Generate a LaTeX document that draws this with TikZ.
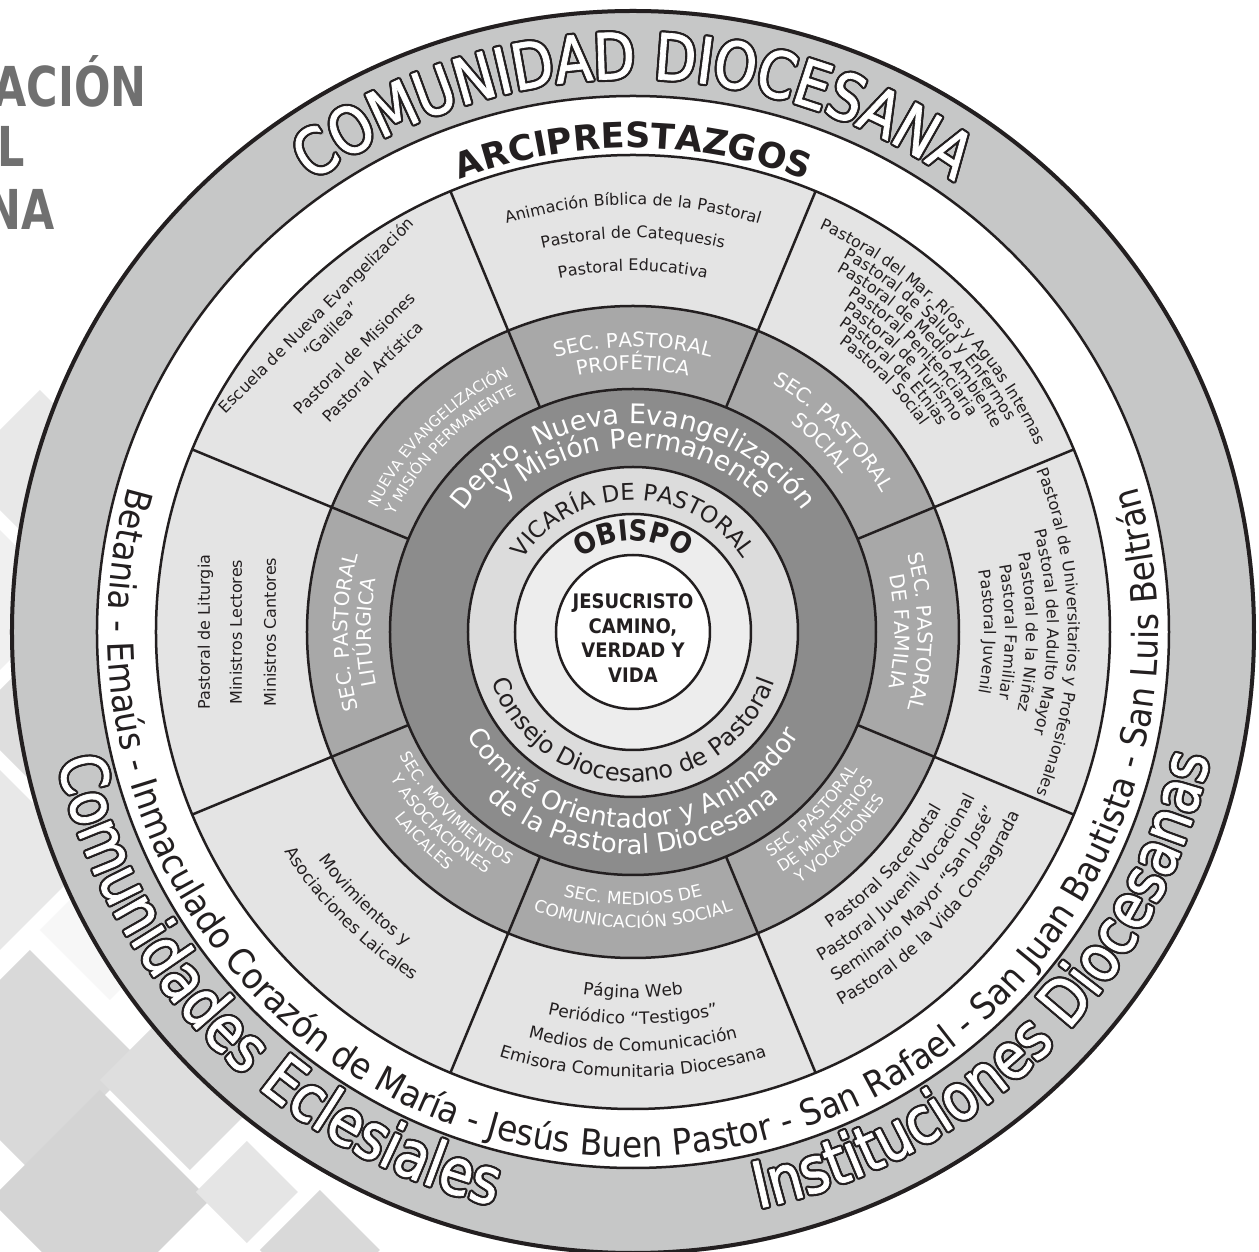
\documentclass[tikz,border=0pt]{standalone}
\usepackage{fontspec}
\setmainfont{DejaVu Sans}
\newfontfamily\outlfont{DejaVu Sans}[FakeStretch=0.85,FakeBold=1]
\newfontfamily\titlefont{DejaVu Sans}[FakeStretch=0.78]
\newfontfamily\centerfont{DejaVu Sans}[FakeStretch=0.9]
\newfontfamily\narrowfont{DejaVu Sans}[FakeStretch=0.91]
\usetikzlibrary{decorations.text}
\definecolor{ringgray}{HTML}{C6C7C7}
\definecolor{sectgray}{HTML}{E4E4E4}
\definecolor{secgray}{HTML}{A8A8A8}
\definecolor{deptogray}{HTML}{8C8C8C}
\definecolor{vicgray}{HTML}{DCDCDC}
\definecolor{obgray}{HTML}{EDEDED}
\definecolor{lineblack}{HTML}{231F20}
\definecolor{titlegray}{HTML}{707070}
\newcommand\fs[1]{\fontsize{#1}{#1}\selectfont}
% clockwise arc text (tops outward)
\newcommand\TxtCW[5]{\path[decorate,decoration={text along path,text align=center,text color=#4,text={|#3|#5}}] (#2+170:#1) arc[start angle=#2+170,end angle=#2-170,radius=#1];}
% counter-clockwise arc text (tops inward)
\newcommand\TxtCCW[5]{\path[decorate,decoration={text along path,text align=center,text color=#4,text={|#3|#5}}] (#2-170:#1) arc[start angle=#2-170,end angle=#2+170,radius=#1];}
\newcommand\OutlCW[3]{\foreach \oa in {0,30,...,330}{\begin{scope}[shift={(\oa:2.2)}]\TxtCW{#1}{#2}{\outlfont\fs{64}}{lineblack}{#3}\end{scope}}\TxtCW{#1}{#2}{\outlfont\fs{64}}{white}{#3}}
\newcommand\OutlCCW[3]{\foreach \oa in {0,30,...,330}{\begin{scope}[shift={(\oa:2.2)}]\TxtCCW{#1}{#2}{\outlfont\fs{64}}{lineblack}{#3}\end{scope}}\TxtCCW{#1}{#2}{\outlfont\fs{64}}{white}{#3}}
\newcommand\diam[4]{\fill[#4] (#1-633,632-#2) ++(0,#3) -- ++(#3,-#3) -- ++(-#3,-#3) -- ++(-#3,#3) -- cycle;}
\tikzset{ringline/.style={draw=lineblack,line width=2.5},
  straighttxt/.style={anchor=base,inner sep=0pt,text=lineblack,font=\fs{#1}}}
\begin{document}
\begin{tikzpicture}[x=1pt,y=1pt]
\useasboundingbox (-633,-620) rectangle (626,632);
\fill[white] (-633,-620) rectangle (626,632);
% background diamonds
\diam{40}{470}{80}{black!9}
\diam{0}{600}{70}{black!6}
\diam{30}{720}{60}{black!13}
\diam{0}{860}{90}{black!9}
\diam{110}{930}{70}{black!3}
\diam{30}{1060}{110}{black!15}
\diam{190}{1080}{90}{black!13}
\diam{100}{1200}{110}{black!17}
\diam{247}{1192}{51}{black!10}
\diam{320}{1250}{60}{black!15}
% title fragments
\node[anchor=base east,text=titlegray,font=\titlefont\bfseries\fs{55}] (t1) at (150-633,632-107) {ACIÓN};
\node[anchor=base east,text=titlegray,font=\titlefont\bfseries\fs{55}] (t2) at (28-633,632-167) {L};
\node[anchor=base east,text=titlegray,font=\titlefont\bfseries\fs{55}] (t3) at (58-633,632-230) {NA};
% rings
\fill[ringgray] (0,0) circle[radius=623];
\draw[lineblack,line width=4] (0,0) circle[radius=621];
\fill[white] (0,0) circle[radius=536];
\draw[ringline] (0,0) circle[radius=536];
\fill[sectgray] (0,0) circle[radius=477];
\draw[ringline] (0,0) circle[radius=477];
\fill[secgray] (0,0) circle[radius=326];
\draw[ringline] (0,0) circle[radius=326];
\fill[deptogray] (0,0) circle[radius=243];
\draw[ringline] (0,0) circle[radius=243];
\fill[vicgray] (0,0) circle[radius=165];
\draw[ringline] (0,0) circle[radius=165];
\fill[obgray] (0,0) circle[radius=118];
\draw[ringline] (0,0) circle[radius=118];
\fill[white] (0,0) circle[radius=77];
\draw[ringline] (0,0) circle[radius=77];
\foreach \k in {0,...,7}{\draw[ringline] (22.5+45*\k:243) -- (22.5+45*\k:477);}
% outer ring texts
\OutlCW{553}{90}{COMUNIDAD DIOCESANA}
\OutlCCW{590}{224.5}{Comunidades Eclesiales}
\OutlCCW{590}{-45}{Instituciones Diocesanas}
% white ring
\TxtCW{484}{90}{\bfseries\fs{35}}{lineblack}{ARCIPRESTAZGOS}
\TxtCCW{525}{270}{\narrowfont\fs{36}}{lineblack}{Betania - Emaús - Inmaculado Corazón de María - Jesús Buen Pastor - San Rafael - San Juan Bautista - San Luis Beltrán}
% outer sectors
\TxtCW{427}{90}{\fs{16}}{lineblack}{Animación Bíblica de la Pastoral}
\TxtCW{394}{90}{\fs{16}}{lineblack}{Pastoral de Catequesis}
\TxtCW{361}{90}{\fs{16}}{lineblack}{Pastoral Educativa}
\TxtCW{444}{45}{\fs{16}}{lineblack}{Pastoral del Mar, Ríos y Aguas Internas}
\TxtCW{429}{45}{\fs{16}}{lineblack}{Pastoral de Salud y Enfermos}
\TxtCW{414}{45}{\fs{16}}{lineblack}{Pastoral de Medio Ambiente}
\TxtCW{399}{45}{\fs{16}}{lineblack}{Pastoral Penitenciaria}
\TxtCW{384}{45}{\fs{16}}{lineblack}{Pastoral de Turismo}
\TxtCW{369}{45}{\fs{16}}{lineblack}{Pastoral de Etnias}
\TxtCW{354}{45}{\fs{16}}{lineblack}{Pastoral Social}
\TxtCW{435}{0}{\fs{16}}{lineblack}{Pastoral de Universitarios y Profesionales}
\TxtCW{414}{0}{\fs{16}}{lineblack}{Pastoral del Adulto Mayor}
\TxtCW{393}{0}{\fs{16}}{lineblack}{Pastoral de la Niñez}
\TxtCW{372}{0}{\fs{16}}{lineblack}{Pastoral Familiar}
\TxtCW{351}{0}{\fs{16}}{lineblack}{Pastoral Juvenil}
\TxtCCW{356}{-43}{\fs{17}}{lineblack}{Pastoral Sacerdotal}
\TxtCCW{380}{-43}{\fs{17}}{lineblack}{Pastoral Juvenil Vocacional}
\TxtCCW{404}{-43}{\fs{17}}{lineblack}{Seminario Mayor “San José”}
\TxtCCW{428}{-43}{\fs{17}}{lineblack}{Pastoral de la Vida Consagrada}
\TxtCCW{366}{-90}{\fs{17}}{lineblack}{Página Web}
\TxtCCW{392}{-90}{\fs{17}}{lineblack}{Periódico “Testigos”}
\TxtCCW{419}{-90}{\fs{17}}{lineblack}{Medios de Comunicación}
\TxtCCW{445}{-90}{\fs{17}}{lineblack}{Emisora Comunitaria Diocesana}
\TxtCCW{388}{-135}{\fs{17}}{lineblack}{Movimientos y}
\TxtCCW{412}{-135}{\fs{17}}{lineblack}{Asociaciones Laicales}
\node[straighttxt=16,rotate=90] (lit1) at (180:423) {Pastoral de Liturgia};
\node[straighttxt=16,rotate=90] (lit2) at (180:391) {Ministros Lectores};
\node[straighttxt=16,rotate=90] (lit3) at (180:357) {Ministros Cantores};
\node[straighttxt=16,rotate=45] (ne1) at (135:442) {Escuela de Nueva Evangelización};
\node[straighttxt=16,rotate=45] (ne2) at (135:421) {“Galilea”};
\node[straighttxt=16,rotate=45] (ne3) at (135:388) {Pastoral de Misiones};
\node[straighttxt=16,rotate=45] (ne4) at (135:362) {Pastoral Artística};
% secretariat ring
\TxtCW{285}{90}{\fs{20}}{white}{SEC. PASTORAL}
\TxtCW{262}{90}{\fs{20}}{white}{PROFÉTICA}
\TxtCW{285}{45}{\fs{20}}{white}{SEC. PASTORAL}
\TxtCW{262}{45}{\fs{20}}{white}{SOCIAL}
\TxtCW{285}{0}{\fs{20}}{white}{SEC. PASTORAL}
\TxtCW{262}{0}{\fs{20}}{white}{DE FAMILIA}
\TxtCW{285}{180}{\fs{20}}{white}{SEC. PASTORAL}
\TxtCW{262}{180}{\fs{20}}{white}{LITÚRGICA}
\TxtCW{284}{135}{\fs{15}}{white}{NUEVA EVANGELIZACIÓN}
\TxtCW{265}{135}{\fs{15}}{white}{Y MISIÓN PERMANENTE}
\TxtCCW{264}{-45}{\fs{16}}{white}{SEC. PASTORAL}
\TxtCCW{283}{-45}{\fs{16}}{white}{DE MINISTERIOS}
\TxtCCW{302}{-45}{\fs{16}}{white}{Y VOCACIONES}
\TxtCCW{273}{-90}{\fs{17}}{white}{SEC. MEDIOS DE}
\TxtCCW{296}{-90}{\fs{17}}{white}{COMUNICACIÓN SOCIAL}
\TxtCCW{264}{-135}{\fs{16}}{white}{SEC. MOVIMIENTOS}
\TxtCCW{283}{-135}{\fs{16}}{white}{Y ASOCIACIONES}
\TxtCCW{302}{-135}{\fs{16}}{white}{LAICALES}
% depto ring
\TxtCW{208}{90}{\fs{27}}{white}{Depto. Nueva Evangelización}
\TxtCW{184}{90}{\fs{27}}{white}{y Misión Permanente}
\TxtCCW{196}{-90}{\fs{26}}{white}{Comité Orientador y Animador}
\TxtCCW{222}{-90}{\fs{26}}{white}{de la Pastoral Diocesana}
% vicaria ring
\TxtCW{132}{90}{\fs{23}}{lineblack}{VICARÍA DE PASTORAL}
\TxtCCW{150}{-90}{\fs{24}}{lineblack}{Consejo Diocesano de Pastoral}
% obispo
\TxtCW{91}{90}{\centerfont\bfseries\fs{29}}{lineblack}{OBISPO}
% center
\node[align=center,text=lineblack,font=\centerfont\bfseries\fontsize{20}{24.5}\selectfont] (jc) at (0,-6) {JESUCRISTO\\CAMINO,\\VERDAD Y\\VIDA};
\end{tikzpicture}
\end{document}
